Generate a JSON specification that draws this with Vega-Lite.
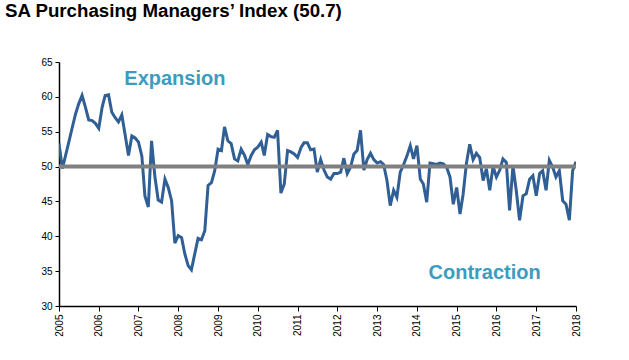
{
  "$schema": "https://vega.github.io/schema/vega-lite/v6.json",
  "width": 517,
  "height": 244,
  "autosize": {"type": "none"},
  "padding": {"left": 59, "top": 62, "right": 53, "bottom": 54},
  "background": "white",
  "title": {
    "text": "SA Purchasing Managers’ Index (50.7)",
    "anchor": "start",
    "frame": "group",
    "font": "Liberation Sans",
    "fontSize": 18.7,
    "fontWeight": "bold",
    "color": "black",
    "dx": -54,
    "offset": 36
  },
  "config": {
    "view": {"stroke": null},
    "axis": {"grid": false, "domainColor": "black", "tickColor": "black", "labelColor": "black", "labelFont": "Liberation Sans", "titleFont": "Liberation Sans", "domainWidth": 1.5, "labelFontSize": 10, "labelOverlap": false, "labelFlush": false},
    "axisY": {"tickCount": 8, "tickSize": 4, "labelPadding": 3},
    "axisX": {"tickSize": 5, "labelPadding": 3}
  },
  "layer": [
    {
      "data": {
        "values": [
          {"d": "2005-01", "v": 53.3}, {"d": "2005-02", "v": 49.7}, {"d": "2005-03", "v": 51.5}, {"d": "2005-04", "v": 53.5}, {"d": "2005-05", "v": 55.5}, {"d": "2005-06", "v": 57.5}, {"d": "2005-07", "v": 59.0}, {"d": "2005-08", "v": 60.2}, {"d": "2005-09", "v": 58.5}, {"d": "2005-10", "v": 56.7}, {"d": "2005-11", "v": 56.6}, {"d": "2005-12", "v": 56.2},
          {"d": "2006-01", "v": 55.5}, {"d": "2006-02", "v": 58.5}, {"d": "2006-03", "v": 60.2}, {"d": "2006-04", "v": 60.3}, {"d": "2006-05", "v": 57.8}, {"d": "2006-06", "v": 57.0}, {"d": "2006-07", "v": 56.4}, {"d": "2006-08", "v": 57.4}, {"d": "2006-09", "v": 54.5}, {"d": "2006-10", "v": 51.6}, {"d": "2006-11", "v": 54.4}, {"d": "2006-12", "v": 54.1},
          {"d": "2007-01", "v": 53.5}, {"d": "2007-02", "v": 51.5}, {"d": "2007-03", "v": 45.8}, {"d": "2007-04", "v": 44.2}, {"d": "2007-05", "v": 53.7}, {"d": "2007-06", "v": 48.5}, {"d": "2007-07", "v": 45.2}, {"d": "2007-08", "v": 44.9}, {"d": "2007-09", "v": 48.2}, {"d": "2007-10", "v": 47.0}, {"d": "2007-11", "v": 45.1}, {"d": "2007-12", "v": 39.0},
          {"d": "2008-01", "v": 40.1}, {"d": "2008-02", "v": 39.8}, {"d": "2008-03", "v": 37.5}, {"d": "2008-04", "v": 35.8}, {"d": "2008-05", "v": 35.2}, {"d": "2008-06", "v": 37.5}, {"d": "2008-07", "v": 39.7}, {"d": "2008-08", "v": 39.5}, {"d": "2008-09", "v": 40.8}, {"d": "2008-10", "v": 47.3}, {"d": "2008-11", "v": 47.7}, {"d": "2008-12", "v": 49.4},
          {"d": "2009-01", "v": 52.5}, {"d": "2009-02", "v": 52.3}, {"d": "2009-03", "v": 55.7}, {"d": "2009-04", "v": 53.7}, {"d": "2009-05", "v": 53.3}, {"d": "2009-06", "v": 51.1}, {"d": "2009-07", "v": 50.8}, {"d": "2009-08", "v": 52.5}, {"d": "2009-09", "v": 51.6}, {"d": "2009-10", "v": 50.3}, {"d": "2009-11", "v": 51.6}, {"d": "2009-12", "v": 52.4},
          {"d": "2010-01", "v": 52.8}, {"d": "2010-02", "v": 53.5}, {"d": "2010-03", "v": 51.6}, {"d": "2010-04", "v": 54.6}, {"d": "2010-05", "v": 54.3}, {"d": "2010-06", "v": 54.2}, {"d": "2010-07", "v": 55.2}, {"d": "2010-08", "v": 46.2}, {"d": "2010-09", "v": 47.5}, {"d": "2010-10", "v": 52.3}, {"d": "2010-11", "v": 52.1}, {"d": "2010-12", "v": 51.8},
          {"d": "2011-01", "v": 51.3}, {"d": "2011-02", "v": 52.7}, {"d": "2011-03", "v": 53.4}, {"d": "2011-04", "v": 53.4}, {"d": "2011-05", "v": 52.4}, {"d": "2011-06", "v": 52.5}, {"d": "2011-07", "v": 49.2}, {"d": "2011-08", "v": 51.0}, {"d": "2011-09", "v": 49.5}, {"d": "2011-10", "v": 48.5}, {"d": "2011-11", "v": 48.2}, {"d": "2011-12", "v": 49.0},
          {"d": "2012-01", "v": 49.0}, {"d": "2012-02", "v": 49.2}, {"d": "2012-03", "v": 51.2}, {"d": "2012-04", "v": 49.0}, {"d": "2012-05", "v": 49.9}, {"d": "2012-06", "v": 51.8}, {"d": "2012-07", "v": 52.3}, {"d": "2012-08", "v": 55.2}, {"d": "2012-09", "v": 49.5}, {"d": "2012-10", "v": 51.0}, {"d": "2012-11", "v": 51.9}, {"d": "2012-12", "v": 51.0},
          {"d": "2013-01", "v": 50.5}, {"d": "2013-02", "v": 50.7}, {"d": "2013-03", "v": 50.3}, {"d": "2013-04", "v": 48.0}, {"d": "2013-05", "v": 44.4}, {"d": "2013-06", "v": 46.6}, {"d": "2013-07", "v": 45.6}, {"d": "2013-08", "v": 49.2}, {"d": "2013-09", "v": 50.3}, {"d": "2013-10", "v": 51.5}, {"d": "2013-11", "v": 53.0}, {"d": "2013-12", "v": 51.1},
          {"d": "2014-01", "v": 53.0}, {"d": "2014-02", "v": 48.2}, {"d": "2014-03", "v": 47.5}, {"d": "2014-04", "v": 44.9}, {"d": "2014-05", "v": 50.5}, {"d": "2014-06", "v": 50.4}, {"d": "2014-07", "v": 50.3}, {"d": "2014-08", "v": 50.5}, {"d": "2014-09", "v": 50.4}, {"d": "2014-10", "v": 49.9}, {"d": "2014-11", "v": 48.5}, {"d": "2014-12", "v": 44.6},
          {"d": "2015-01", "v": 47.0}, {"d": "2015-02", "v": 43.2}, {"d": "2015-03", "v": 46.0}, {"d": "2015-04", "v": 50.5}, {"d": "2015-05", "v": 53.2}, {"d": "2015-06", "v": 51.0}, {"d": "2015-07", "v": 51.9}, {"d": "2015-08", "v": 51.3}, {"d": "2015-09", "v": 48.0}, {"d": "2015-10", "v": 49.7}, {"d": "2015-11", "v": 46.6}, {"d": "2015-12", "v": 50.0},
          {"d": "2016-01", "v": 48.5}, {"d": "2016-02", "v": 49.5}, {"d": "2016-03", "v": 51.1}, {"d": "2016-04", "v": 50.6}, {"d": "2016-05", "v": 43.7}, {"d": "2016-06", "v": 50.1}, {"d": "2016-07", "v": 46.6}, {"d": "2016-08", "v": 42.3}, {"d": "2016-09", "v": 45.8}, {"d": "2016-10", "v": 46.1}, {"d": "2016-11", "v": 48.2}, {"d": "2016-12", "v": 48.7},
          {"d": "2017-01", "v": 45.8}, {"d": "2017-02", "v": 49.0}, {"d": "2017-03", "v": 49.4}, {"d": "2017-04", "v": 46.6}, {"d": "2017-05", "v": 50.9}, {"d": "2017-06", "v": 49.9}, {"d": "2017-07", "v": 48.5}, {"d": "2017-08", "v": 49.4}, {"d": "2017-09", "v": 45.1}, {"d": "2017-10", "v": 44.6}, {"d": "2017-11", "v": 42.3}, {"d": "2017-12", "v": 49.4},
          {"d": "2018-01", "v": 50.7}
        ]
      },
      "mark": {"type": "line", "color": "#2F5F95", "strokeWidth": 3, "clip": true},
      "encoding": {
        "x": {
          "field": "d",
          "type": "temporal",
          "scale": {"type": "utc", "domain": [{"year": 2005, "month": 1, "date": 1, "utc": true}, {"year": 2018, "month": 1, "date": 1, "utc": true}], "nice": false},
          "axis": {
            "title": null,
            "format": "%Y",
            "tickCount": {"interval": "year", "step": 1},
            "labelAngle": 270,
            "labelAlign": "right",
            "labelBaseline": "middle"
          }
        },
        "y": {
          "field": "v",
          "type": "quantitative",
          "scale": {"domain": [30, 65], "nice": false, "zero": false},
          "axis": {
            "title": null,
            "values": [30, 35, 40, 45, 50, 55, 60, 65]
          }
        }
      }
    },
    {
      "data": {"values": [{"level": 50}]},
      "mark": {"type": "rule", "color": "#808080", "strokeWidth": 4},
      "encoding": {"y": {"field": "level", "type": "quantitative", "axis": {"title": null, "values": [30, 35, 40, 45, 50, 55, 60, 65]}}}
    },
    {
      "data": {"values": [{"label": "Expansion"}]},
      "mark": {"type": "text", "font": "Liberation Sans", "fontSize": 20, "fontWeight": "bold", "color": "#3C9CC0", "align": "center", "baseline": "middle"},
      "encoding": {
        "text": {"field": "label"},
        "x": {"datum": {"year": 2007, "month": 12, "date": 1, "utc": true}, "type": "temporal"},
        "y": {"datum": 62.6}
      }
    },
    {
      "data": {"values": [{"label": "Contraction"}]},
      "mark": {"type": "text", "font": "Liberation Sans", "fontSize": 20, "fontWeight": "bold", "color": "#3C9CC0", "align": "center", "baseline": "middle"},
      "encoding": {
        "text": {"field": "label"},
        "x": {"datum": {"year": 2015, "month": 9, "date": 15, "utc": true}, "type": "temporal"},
        "y": {"datum": 34.8}
      }
    }
  ]
}
